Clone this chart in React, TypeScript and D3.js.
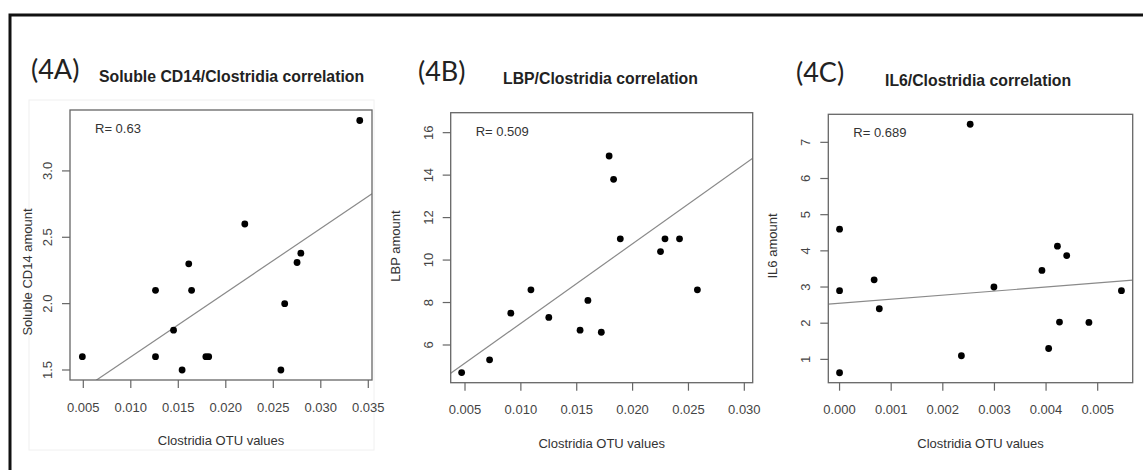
import React from "react";
import * as d3 from "d3";

// ---------- data ----------
const aX = [0.0049, 0.0126, 0.0126, 0.0161, 0.0164, 0.0145, 0.0154, 0.0179, 0.0182, 0.0220, 0.0258, 0.0262, 0.0275, 0.0279, 0.0341];
const aY = [1.6, 2.1, 1.6, 2.3, 2.1, 1.8, 1.5, 1.6, 1.6, 2.6, 1.5, 2.0, 2.31, 2.38, 3.38];
const aFit = [1.115, 48.4]; // intercept, slope
const aXTicks = [0.005, 0.01, 0.015, 0.02, 0.025, 0.03, 0.035];
const aYTicks = [1.5, 2.0, 2.5, 3.0];
const aXDomain = [0.0036, 0.03539];
const aYDomain = [1.4246, 3.459];

const bX = [0.0179, 0.0183, 0.0189, 0.0229, 0.0242, 0.0225, 0.0258, 0.0109, 0.0091, 0.0125, 0.0160, 0.0153, 0.0172, 0.0072, 0.0047];
const bY = [14.9, 13.8, 11.0, 11.0, 11.0, 10.4, 8.6, 8.6, 7.5, 7.3, 8.1, 6.7, 6.6, 5.3, 4.7];
const bFit = [3.276, 374.7];
const bXTicks = [0.005, 0.01, 0.015, 0.02, 0.025, 0.03];
const bYTicks = [6, 8, 10, 12, 14, 16];
const bXDomain = [0.00372, 0.03075];
const bYDomain = [4.224, 16.94];

const cX = [0.00253, 0, 0, 0, 0.00067, 0.00077, 0.00236, 0.00299, 0.00392, 0.00422, 0.0044, 0.00426, 0.00405, 0.00483, 0.00546];
const cY = [7.5, 4.6, 2.9, 0.63, 3.2, 2.4, 1.1, 3.0, 3.46, 4.13, 3.87, 2.03, 1.3, 2.02, 2.9];
const cFit = [2.55, 112.5];
const cXTicks = [0, 0.001, 0.002, 0.003, 0.004, 0.005];
const cYTicks = [1, 2, 3, 4, 5, 6, 7];
const cXDomain = [-0.000218, 0.005678];
const cYDomain = [0.355, 7.775];

const panelTags = ["(4A)", "(4B)", "(4C)"];
const panelTitles = ["Soluble CD14/Clostridia correlation", "LBP/Clostridia correlation", "IL6/Clostridia correlation"];
const rLabels = ["R= 0.63", "R= 0.509", "R= 0.689"];
const yLabels = ["Soluble CD14 amount", "LBP amount", "IL6 amount"];
const xLabel = "Clostridia OTU values";

// ---------- layout ----------
const W = 1143;
const H = 470;

type Panel = {
  xs: number[]; ys: number[]; fit: number[]; xTicks: number[]; yTicks: number[];
  xDomain: number[]; yDomain: number[]; xFmt: (v: number) => string; yFmt: (v: number) => string;
  box: { x0: number; x1: number; y0: number; y1: number };
  tagX: number; tagY: number; titleX: number; titleY: number;
  yLabX: number; yLabY: number;
};

const panels: Panel[] = [
  {
    xs: aX, ys: aY, fit: aFit, xTicks: aXTicks, yTicks: aYTicks, xDomain: aXDomain, yDomain: aYDomain,
    xFmt: d3.format(".3f"), yFmt: d3.format(".1f"),
    box: { x0: 70, x1: 372, y0: 110, y1: 380 },
    tagX: 31, tagY: 79, titleX: 99, titleY: 82, yLabX: 27.5, yLabY: 272,
  },
  {
    xs: bX, ys: bY, fit: bFit, xTicks: bXTicks, yTicks: bYTicks, xDomain: bXDomain, yDomain: bYDomain,
    xFmt: d3.format(".3f"), yFmt: d3.format("d"),
    box: { x0: 450.7, x1: 752.7, y0: 112.7, y1: 382.7 },
    tagX: 418, tagY: 81, titleX: 503, titleY: 84, yLabX: 395, yLabY: 246,
  },
  {
    xs: cX, ys: cY, fit: cFit, xTicks: cXTicks, yTicks: cYTicks, xDomain: cXDomain, yDomain: cYDomain,
    xFmt: d3.format(".3f"), yFmt: d3.format("d"),
    box: { x0: 828.3, x1: 1132.7, y0: 114.3, y1: 382.7 },
    tagX: 796, tagY: 82, titleX: 885, titleY: 86, yLabX: 772, yLabY: 246,
  },
];

const AX = "Liberation Sans, Arial, Helvetica, sans-serif";
const TAGF = "Lato, 'Open Sans', sans-serif";

function PanelView({ p, i }: { p: Panel; i: number }) {
  const { box } = p;
  const x = d3.scaleLinear().domain(p.xDomain).range([box.x0, box.x1]);
  const y = d3.scaleLinear().domain(p.yDomain).range([box.y1, box.y0]);
  const lineGen = d3.line<number>().x((d) => x(d)).y((d) => y(p.fit[0] + p.fit[1] * d));
  const clipId = `clip${i}`;
  const tick = 8;
  return (
    <g>
      <defs>
        <clipPath id={clipId}>
          <rect x={box.x0} y={box.y0} width={box.x1 - box.x0} height={box.y1 - box.y0} />
        </clipPath>
      </defs>
      <text x={p.tagX} y={p.tagY} fontFamily={TAGF} fontSize={27} fill="#222">{panelTags[i]}</text>
      <text x={p.titleX} y={p.titleY} fontFamily={AX} fontSize={15.8} fontWeight="bold" fill="#222">{panelTitles[i]}</text>
      {/* regression line */}
      <path d={lineGen(p.xDomain) || ""} stroke="#8a8a8a" strokeWidth={1.2} fill="none" clipPath={`url(#${clipId})`} />
      {/* points */}
      {p.xs.map((v, k) => (
        <circle key={k} cx={x(v)} cy={y(p.ys[k])} r={3.4} fill="#000" />
      ))}
      {/* box */}
      <rect x={box.x0} y={box.y0} width={box.x1 - box.x0} height={box.y1 - box.y0} fill="none" stroke="#666" strokeWidth={1.3} />
      {/* x ticks */}
      {p.xTicks.map((t) => (
        <g key={"xt" + t}>
          <line x1={x(t)} x2={x(t)} y1={box.y1} y2={box.y1 + tick} stroke="#666" strokeWidth={1.2} />
          <text x={x(t)} y={box.y1 + 31.5} textAnchor="middle" fontFamily={AX} fontSize={13} fill="#444">{p.xFmt(t)}</text>
        </g>
      ))}
      {/* y ticks */}
      {p.yTicks.map((t) => (
        <g key={"yt" + t}>
          <line x1={box.x0 - tick} x2={box.x0} y1={y(t)} y2={y(t)} stroke="#666" strokeWidth={1.2} />
          <text transform={`translate(${box.x0 - 18},${y(t)}) rotate(-90)`} textAnchor="middle" fontFamily={AX} fontSize={13} fill="#444">{p.yFmt(t)}</text>
        </g>
      ))}
      <text x={(box.x0 + box.x1) / 2} y={box.y1 + 65} textAnchor="middle" fontFamily={AX} fontSize={13} fill="#333">{xLabel}</text>
      <text transform={`translate(${p.yLabX},${p.yLabY}) rotate(-90)`} textAnchor="middle" dominantBaseline="central" fontFamily={AX} fontSize={13} fill="#333">{yLabels[i]}</text>
      <text x={box.x0 + 25} y={box.y0 + 23} fontFamily={AX} fontSize={13} fill="#333">{rLabels[i]}</text>
    </g>
  );
}

export default function App() {
  return (
    <svg width={W} height={H} style={{ position: "absolute", left: 0, top: 0, background: "#fff" }}>
      <rect x={0} y={0} width={W} height={H} fill="#fff" />
      {/* faint sub-image border of panel A */}
      <rect x={29} y={100} width={345} height={350} fill="none" stroke="#f0f0f0" strokeWidth={1} />
      {/* outer frame (top & left visible) */}
      <rect x={10} y={15} width={W + 20} height={H + 20} fill="none" stroke="#111" strokeWidth={3} />
      {panels.map((p, i) => (
        <PanelView key={i} p={p} i={i} />
      ))}
    </svg>
  );
}
